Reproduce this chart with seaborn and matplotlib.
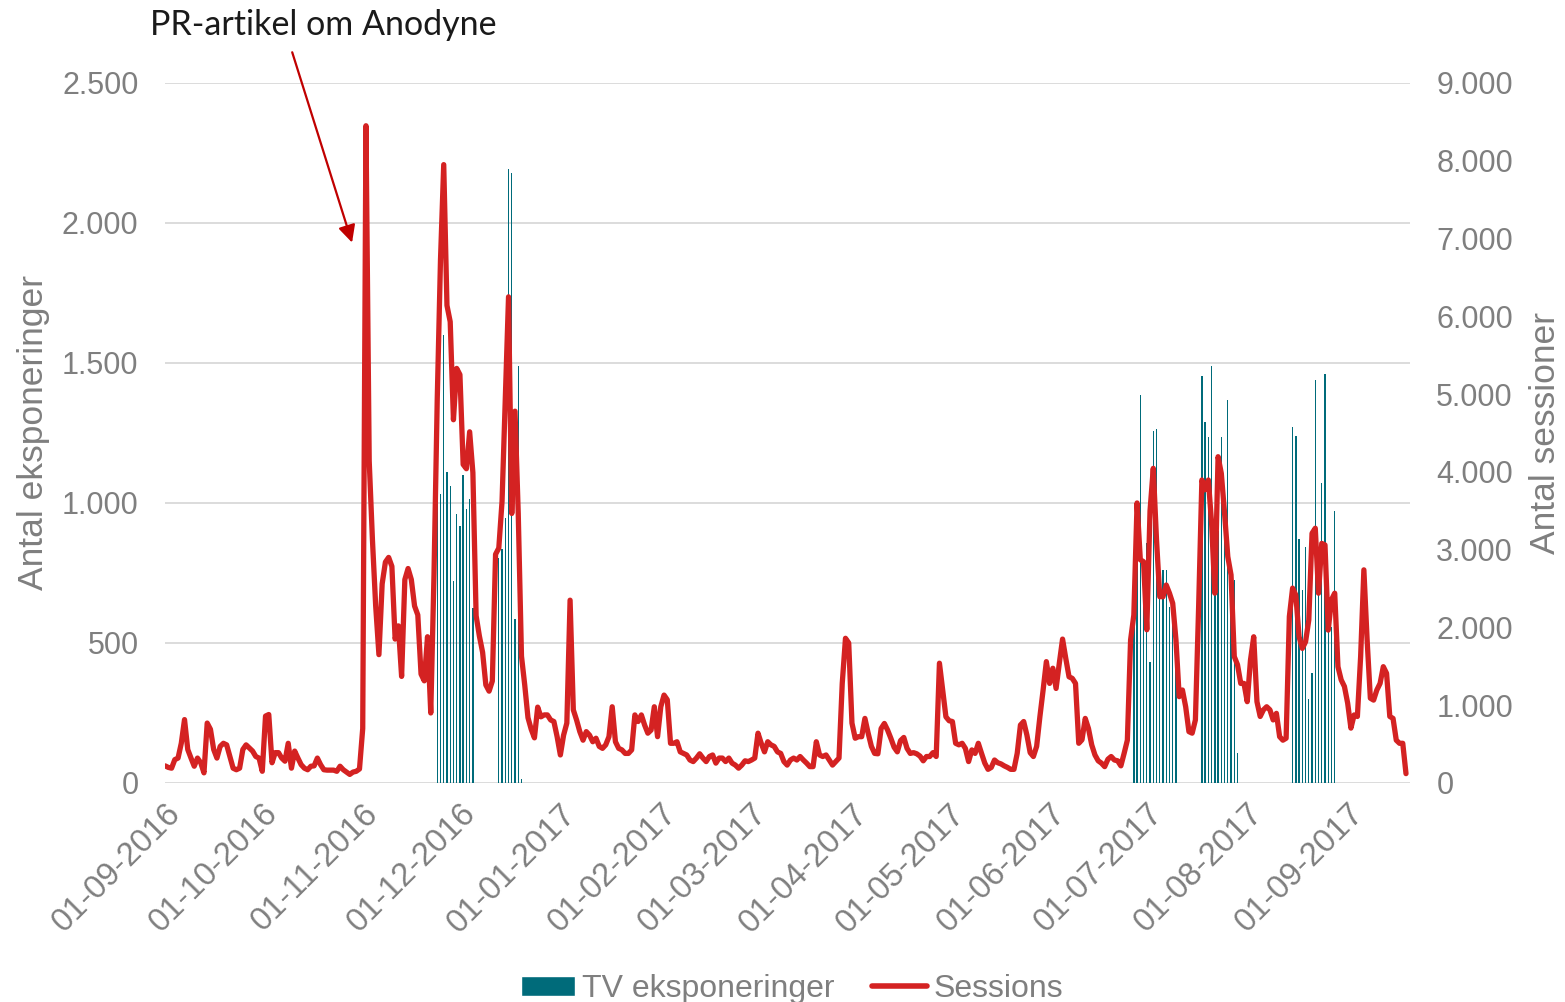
import matplotlib
matplotlib.use("Agg")

import matplotlib.pyplot as plt
import pandas as pd
import seaborn as sns
from matplotlib.lines import Line2D
from matplotlib.patches import Patch

# daily sessions from 01-09-2016 (right axis)
start_date = "2016-09-01"
sessions = [
    220, 200, 190, 300, 320, 510, 815, 430, 320, 215,
    320, 260, 130, 770, 690, 430, 320, 470, 510, 490,
    340, 190, 170, 190, 430, 490, 450, 410, 340, 320,
    150, 860, 880, 260, 390, 390, 320, 280, 510, 190,
    410, 320, 235, 190, 170, 215, 220, 320, 235, 170,
    165, 165, 165, 150, 215, 170, 140, 110, 140, 150,
    180, 700, 8450, 4140, 3125, 2275, 1650, 2560, 2840, 2900,
    2785, 1850, 2020, 1370, 2615, 2757, 2615, 2275, 2160, 1400,
    1313, 1880, 900, 2680, 4935, 6720, 7950, 6140, 5930, 4670,
    5330, 5250, 4095, 4040, 4515, 3990, 2150, 1890, 1680, 1260,
    1180, 1310, 2940, 3020, 3620, 4935, 6250, 3465, 4780, 3465,
    1630, 1260, 840, 690, 580, 975, 850, 875, 875, 810,
    790, 595, 360, 615, 770, 2350, 940, 810, 660, 550,
    660, 615, 530, 575, 470, 445, 490, 595, 980, 530,
    445, 425, 380, 380, 425, 875, 790, 875, 745, 640,
    680, 980, 595, 980, 1130, 1070, 510, 510, 530, 400,
    380, 360, 295, 275, 320, 375, 320, 275, 340, 360,
    255, 320, 320, 275, 320, 255, 230, 190, 230, 285,
    275, 295, 320, 640, 510, 400, 530, 490, 470, 400,
    380, 275, 230, 295, 320, 295, 340, 295, 255, 210,
    210, 530, 360, 340, 360, 295, 230, 275, 320, 1280,
    1860, 1800, 770, 575, 595, 595, 830, 640, 470, 380,
    375, 700, 765, 680, 575, 460, 400, 545, 585, 445,
    380, 390, 375, 345, 285, 340, 340, 390, 340, 1540,
    1195, 850, 800, 790, 510, 490, 510, 445, 275, 425,
    380, 510, 380, 255, 175, 200, 295, 260, 245, 220,
    200, 175, 175, 380, 745, 790, 615, 390, 340, 470,
    850, 1195, 1560, 1280, 1475, 1215, 1540, 1850, 1600, 1365,
    1345, 1280, 510, 555, 830, 700, 490, 360, 285, 255,
    210, 305, 340, 295, 285, 220, 380, 550, 1840, 2160,
    3600, 2870, 2845, 1970, 3500, 4045, 3125, 2395, 2395, 2545,
    2440, 2310, 1840, 1110, 1195, 980, 660, 640, 810, 2265,
    3895, 3770, 3895, 3340, 2440, 4195, 3980, 3470, 2910, 2675,
    1625, 1520, 1280, 1280, 1045, 1580, 1880, 1045, 855, 940,
    980, 940, 810, 895, 595, 550, 575, 2140, 2505, 2415,
    1880, 1730, 1815, 2095, 3210, 3275, 2440, 3080, 3060, 1965,
    2355, 2440, 1495, 1325, 1240, 1025, 705, 875, 855, 1625,
    2740, 1840, 1090, 1065, 1195, 1280, 1495, 1410, 855, 830,
    550, 510, 510, 120,
]

# TV exposures (left axis), one run of consecutive days per campaign
tv_starts = ["2016-11-24", "2016-12-13", "2017-06-27", "2017-07-18", "2017-08-15"]
tv_values = [
    [1040, 1033, 1600, 1109, 1061, 722, 962, 918, 1100, 978, 1013, 624],
    [805, 836, 947, 2194, 2180, 585, 1489, 15],
    [582, 900, 1386, 790, 856, 433, 1258, 1264, 713, 761, 759, 630, 665, 546],
    [1453, 1290, 1237, 1489, 868, 900, 1237, 1010, 1368, 749, 725, 106],
    [1271, 1240, 871, 688, 843, 300, 393, 1440, 680, 1071, 1460, 546, 558, 970],
]

left_ticks = [0, 500, 1000, 1500, 2000, 2500]
right_ticks = [0, 1000, 2000, 3000, 4000, 5000, 6000, 7000, 8000, 9000]

note_text = "PR-artikel om Anodyne"
note_tip = ("2016-10-28 17:00", 1930)

TEAL = "#006b7a"
RED = "#d42222"
GREY = "#7f7f7f"
GRID = "#d9d9d9"
ARROW = "#c00000"

sns.set_theme(style="white")
plt.rcParams["font.family"] = ["Liberation Sans", "DejaVu Sans"]


def thousands(v):
    return f"{v:,}".replace(",", ".")


dates = pd.date_range(start_date, periods=len(sessions), freq="D")
df = pd.DataFrame({"date": dates, "sessions": sessions})

rows = []
for start, vals in zip(tv_starts, tv_values):
    for day, v in zip(pd.date_range(start, periods=len(vals), freq="D"), vals):
        rows.append((day, v))
tv = pd.DataFrame(rows, columns=["date", "tv"])

fig = plt.figure(figsize=(15.65, 10.02), dpi=100)
ax = fig.add_axes([0.1054, 0.2186, 0.7955, 0.6986])
ax2 = ax.twinx()

ax.bar(tv["date"], tv["tv"], width=0.42, color=TEAL, linewidth=0)
sns.lineplot(data=df, x="date", y="sessions", ax=ax2, color=RED, linewidth=3.8,
             solid_joinstyle="round", solid_capstyle="round", legend=False)

ax.set_xlim(dates[0] - pd.Timedelta(hours=1), dates[-1] + pd.Timedelta(hours=29))
ax.set_ylim(0, 2500)
ax2.set_ylim(0, 9000)

ax.set_yticks(left_ticks, [thousands(v) for v in left_ticks])
ax2.set_yticks(right_ticks, [thousands(v) for v in right_ticks])

months = pd.date_range("2016-09-01", "2017-09-01", freq="MS")
ax.set_xticks(months, [m.strftime("%d-%m-%Y") for m in months])
plt.setp(ax.get_xticklabels(), rotation=45, ha="right", va="top", rotation_mode="anchor")

for a in (ax, ax2):
    for s in a.spines.values():
        s.set_visible(False)
    a.tick_params(length=0, labelsize=22, colors=GREY)
ax.tick_params(axis="y", pad=19)
ax2.tick_params(axis="y", pad=19)
ax.tick_params(axis="x", pad=11, labelsize=23.5)

ax.yaxis.grid(True, color=GRID, linewidth=1.3)
ax.xaxis.grid(False)
ax2.grid(False)
ax.set_axisbelow(True)

ax.set_xlabel("")
ax2.set_xlabel("")
ax.set_ylabel("Antal eksponeringer", fontsize=25.5, color=GREY)
ax2.set_ylabel("Antal sessioner", fontsize=25.5, color=GREY)
ax.yaxis.set_label_coords(-0.092, 0.5)
ax2.yaxis.set_label_coords(1.096, 0.5)

ax.annotate(note_text, xy=(pd.Timestamp(note_tip[0]), note_tip[1]), xycoords="data",
            xytext=(0.2066, 0.975), textcoords="figure fraction",
            ha="center", va="center", fontsize=24.5, color="#1a1a1a",
            family=["Lato", "DejaVu Sans"],
            arrowprops=dict(arrowstyle="-|>", color=ARROW, lw=1.6, mutation_scale=26,
                            shrinkA=6, shrinkB=0, relpos=(0.40, 0.0)))

handles = [Patch(facecolor=TEAL, label="TV eksponeringer"),
           Line2D([0], [0], color=RED, lw=4, solid_capstyle="round", label="Sessions")]
fig.legend(handles=handles, loc="center", bbox_to_anchor=(0.506, 0.013), ncol=2,
           frameon=False, fontsize=23, handlelength=1.7, handleheight=0.6,
           handletextpad=0.2, columnspacing=1.2, labelcolor=GREY)

fig.savefig("out.png", dpi=100)
